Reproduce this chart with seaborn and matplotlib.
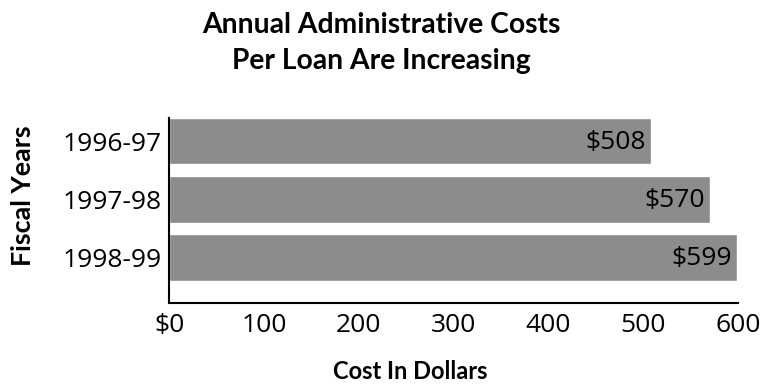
import matplotlib
matplotlib.use("Agg")
import matplotlib.pyplot as plt
import seaborn as sns
import pandas as pd

years = ["1996-97", "1997-98", "1998-99"]
costs = [508, 570, 599]
x_ticks = [0, 100, 200, 300, 400, 500, 600]
x_tick_labels = ["$0", "100", "200", "300", "400", "500", "600"]

sns.set_theme(style="white")
plt.rcParams["font.family"] = ["Open Sans", "DejaVu Sans"]
bold_family = ["Lato", "DejaVu Sans"]

df = pd.DataFrame({"year": years, "cost": costs})

fig = plt.figure(figsize=(7.63, 3.85), dpi=100)
ax = fig.add_axes([169 / 763, 1 - 303 / 385, (738 - 169) / 763, (303 - 118) / 385])

sns.barplot(data=df, x="cost", y="year", color="#8c8c8c", saturation=1,
            width=0.8, ax=ax, orient="h")

for i, v in enumerate(costs):
    ax.text(v - 5, i + 0.02, f"${v}", ha="right", va="center", fontsize=19, color="black")

ax.set_xlim(0, 600)
ax.set_ylim(2.785, -0.4)
ax.set_xticks(x_ticks)
ax.set_xticklabels(x_tick_labels, fontsize=19)
ax.tick_params(axis="x", direction="in", length=8, width=1.5, color="black", pad=7)
ax.tick_params(axis="y", length=0, labelsize=19, pad=5)
for lbl in ax.get_yticklabels() + ax.get_xticklabels():
    lbl.set_color("black")

for s in ["top", "right"]:
    ax.spines[s].set_visible(False)
for s in ["left", "bottom"]:
    ax.spines[s].set_color("black")
    ax.spines[s].set_linewidth(1.5)

ax.set_xlabel("")
ax.set_ylabel("")

fig.text(410 / 763, 1 - 379 / 385, "Cost In Dollars", ha="center", va="baseline",
         fontsize=17, fontweight="bold", color="black", family=bold_family)
fig.text(23 / 763, 1 - 196 / 385, "Fiscal Years", ha="center", va="center",
         rotation=90, fontsize=19.4, fontweight="bold", color="black",
         family=bold_family)

fig.text(381 / 763, 1 - 33 / 385, "Annual Administrative Costs",
         ha="center", va="baseline", fontsize=20.3, fontweight="bold",
         color="black", family=bold_family)
fig.text(381 / 763, 1 - 69 / 385, "Per Loan Are Increasing",
         ha="center", va="baseline", fontsize=20.3, fontweight="bold",
         color="black", family=bold_family)

fig.savefig("out.png", dpi=100)
